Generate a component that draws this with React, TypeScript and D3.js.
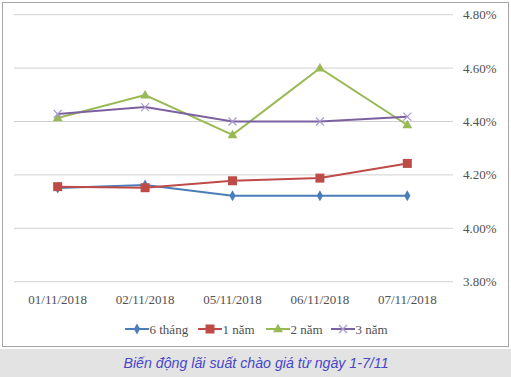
import React from "react";
import * as d3 from "d3";

const categories = ["01/11/2018", "02/11/2018", "05/11/2018", "06/11/2018", "07/11/2018"];
const series6m = [4.151, 4.162, 4.122, 4.122, 4.122];
const series1y = [4.156, 4.152, 4.178, 4.188, 4.243];
const series2y = [4.413, 4.499, 4.35, 4.6, 4.387];
const series3y = [4.428, 4.454, 4.4, 4.4, 4.418];
const yTicks = [3.8, 4.0, 4.2, 4.4, 4.6, 4.8];
const seriesNames = ["6 tháng", "1 năm", "2 năm", "3 năm"];
const caption = "Biến động lãi suất chào giá từ ngày 1-7/11";

const W = 511, H = 377;
const SERIF = "'Liberation Serif', 'Times New Roman', 'DejaVu Serif', serif";

export default function App() {
  const x = d3.scaleBand<string>().domain(categories).range([14, 451]);
  const y = d3.scaleLinear().domain([3.8, 4.8]).range([281.7, 14.7]);
  const cx = (c: string) => (x(c) as number) + x.bandwidth() / 2;
  const line = d3.line<number>().x((_, i) => cx(categories[i])).y((v) => y(v));

  const defs = [
    { name: seriesNames[0], data: series6m, color: "#4a7ebb", marker: "diamond" },
    { name: seriesNames[1], data: series1y, color: "#be4b48", marker: "square" },
    { name: seriesNames[2], data: series2y, color: "#98b954", marker: "triangle" },
    { name: seriesNames[3], data: series3y, color: "#7d60a0", marker: "x" },
  ];

  const marker = (kind: string, px: number, py: number, color: string, key: any) => {
    if (kind === "diamond") {
      const p = d3.symbol(d3.symbolDiamond, 34)();
      return <path key={key} d={p as string} transform={`translate(${px},${py})`} fill={color} />;
    }
    if (kind === "square") {
      return <rect key={key} x={px - 4.5} y={py - 4.5} width={9} height={9} fill={color} />;
    }
    if (kind === "triangle") {
      const p = d3.symbol(d3.symbolTriangle, 42)();
      return <path key={key} d={p as string} transform={`translate(${px},${py + 0.5})`} fill={color} />;
    }
    return (
      <g key={key} stroke="#a99bd0" strokeWidth={1.2}>
        <line x1={px - 4} y1={py - 4} x2={px + 4} y2={py + 4} />
        <line x1={px - 4} y1={py + 4} x2={px + 4} y2={py - 4} />
      </g>
    );
  };

  const legendX = [125, 198, 266, 331];

  return (
    <svg width={W} height={H} style={{ position: "absolute", left: 0, top: 0, background: "#fff" }}>
      <rect x={2.5} y={2.5} width={506} height={344} fill="#fff" stroke="#a6a6a6" strokeWidth={1} />
      {yTicks.map((t) => (
        <g key={t}>
          <line x1={14} x2={453} y1={y(t)} y2={y(t)} stroke="#d0d0d0" strokeWidth={1} />
          <text x={463} y={y(t) + 4.5} fontFamily={SERIF} fontSize={13} fill="#505050">
            {t.toFixed(2)}%
          </text>
        </g>
      ))}
      {categories.map((c) => (
        <text key={c} x={cx(c)} y={303.5} textAnchor="middle" fontFamily={SERIF} fontSize={13} fill="#505050">
          {c}
        </text>
      ))}
      {defs.map((s, si) => (
        <g key={s.name}>
          <path d={line(s.data) as string} fill="none" stroke={s.color} strokeWidth={2} />
          {s.data.map((v, i) => marker(s.marker, cx(categories[i]), y(v), s.color, `${si}-${i}`))}
        </g>
      ))}
      {defs.map((s, si) => (
        <g key={"lg" + s.name}>
          <line x1={legendX[si]} x2={legendX[si] + 24} y1={329} y2={329} stroke={s.color} strokeWidth={2} />
          {marker(s.marker, legendX[si] + 12, 329, s.color, "lm" + si)}
          <text x={legendX[si] + 24.5} y={333.5} fontFamily={SERIF} fontSize={13} fill="#505050">
            {s.name}
          </text>
        </g>
      ))}
      <rect x={0} y={349} width={W} height={28} fill="#e3e3e3" />
      <text x={256} y={368} textAnchor="middle" fontFamily="'Liberation Sans', Arial, sans-serif" fontStyle="italic" fontSize={14.2} fill="#4747c8">
        {caption}
      </text>
    </svg>
  );
}
